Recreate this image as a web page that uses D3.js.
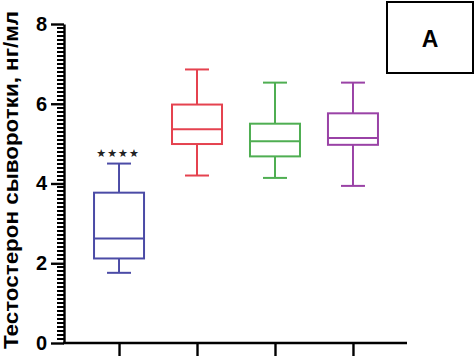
<!DOCTYPE html>
<html>
<head>
<meta charset="utf-8">
<script src="https://cdn.jsdelivr.net/npm/d3@7"></script>
<style>
  body { margin: 0; background: #fff; }
  svg { display: block; }
</style>
</head>
<body>
<div id="chart"></div>
<script>
// groups and box statistics
const groups = ['g1', 'g2', 'g3', 'g4'];
const whiskerLow = [1.76, 4.2, 4.14, 3.94];
const q1 = [2.12, 4.99, 4.68, 4.97];
const median = [2.62, 5.36, 5.06, 5.14];
const q3 = [3.77, 5.98, 5.5, 5.76];
const whiskerHigh = [4.5, 6.86, 6.53, 6.53];
const colors = ['#4b4ba6', '#e5424f', '#4fae52', '#9a42a6'];
const marks = ['★★★★', '', '', ''];
const yTicks = [0, 2, 4, 6, 8];

const width = 475, height = 358;
const axisX = 64;

const svg = d3.select('#chart').append('svg')
    .attr('width', width)
    .attr('height', height);

const y = d3.scaleLinear().domain([0, 8]).range([343, 24]);
const x = d3.scalePoint().domain(groups).range([66, 406]).padding(0.68);

// minor ticks every 0.1
const minor = d3.range(0, 81).map(d => d / 10).filter(d => !yTicks.includes(d));
svg.append('g')
    .attr('shape-rendering', 'crispEdges')
    .selectAll('line')
    .data(minor)
    .enter().append('line')
    .attr('x1', axisX - 7).attr('x2', axisX)
    .attr('y1', d => Math.round(y(d))).attr('y2', d => Math.round(y(d)))
    .attr('stroke', '#000')
    .attr('stroke-width', 2);

// major ticks and labels
const yAxis = svg.append('g')
    .attr('transform', `translate(${axisX},0)`)
    .call(d3.axisLeft(y).tickValues(yTicks).tickSize(13).tickSizeOuter(0).tickPadding(4));
yAxis.select('.domain').attr('stroke', '#000').attr('stroke-width', 2.4);
yAxis.selectAll('line').attr('stroke', '#000').attr('stroke-width', 2.4);
yAxis.selectAll('text')
    .style('font-family', 'Liberation Sans, Arial, sans-serif')
    .style('font-weight', 'bold')
    .style('font-size', '20px')
    .attr('fill', '#000');

// x axis without labels
const xAxis = svg.append('g')
    .attr('transform', 'translate(0,343)')
    .call(d3.axisBottom(x).tickSize(13).tickSizeOuter(0).tickFormat(''));
xAxis.select('.domain').attr('d', `M${axisX - 1},0H407`).attr('stroke', '#000').attr('stroke-width', 2.4);
xAxis.selectAll('line').attr('stroke', '#000').attr('stroke-width', 2.4);

svg.append('text')
    .attr('transform', 'translate(18,180) rotate(-90)')
    .attr('text-anchor', 'middle')
    .attr('textLength', 338)
    .attr('lengthAdjust', 'spacingAndGlyphs')
    .style('font-family', 'Liberation Sans, Arial, sans-serif')
    .style('font-weight', 'bold')
    .style('font-size', '20px')
    .text('Тестостерон сыворотки, нг/мл');

const boxW = 50, capW = 24;
const boxes = svg.append('g')
    .selectAll('g')
    .data(groups)
    .enter().append('g')
    .attr('stroke', (d, i) => colors[i])
    .attr('stroke-width', 2)
    .attr('fill', 'none');

boxes.append('line')
    .attr('x1', d => x(d)).attr('x2', d => x(d))
    .attr('y1', (d, i) => y(whiskerHigh[i])).attr('y2', (d, i) => y(q3[i]));
boxes.append('line')
    .attr('x1', d => x(d)).attr('x2', d => x(d))
    .attr('y1', (d, i) => y(q1[i])).attr('y2', (d, i) => y(whiskerLow[i]));
boxes.append('line')
    .attr('x1', d => x(d) - capW / 2).attr('x2', d => x(d) + capW / 2)
    .attr('y1', (d, i) => y(whiskerHigh[i])).attr('y2', (d, i) => y(whiskerHigh[i]));
boxes.append('line')
    .attr('x1', d => x(d) - capW / 2).attr('x2', d => x(d) + capW / 2)
    .attr('y1', (d, i) => y(whiskerLow[i])).attr('y2', (d, i) => y(whiskerLow[i]));
boxes.append('rect')
    .attr('x', d => x(d) - boxW / 2)
    .attr('width', boxW)
    .attr('y', (d, i) => y(q3[i]))
    .attr('height', (d, i) => y(q1[i]) - y(q3[i]));
boxes.append('line')
    .attr('x1', d => x(d) - boxW / 2).attr('x2', d => x(d) + boxW / 2)
    .attr('y1', (d, i) => y(median[i])).attr('y2', (d, i) => y(median[i]));

svg.append('g')
    .selectAll('text')
    .data(groups)
    .enter().append('text')
    .attr('x', d => x(d) - 1)
    .attr('y', (d, i) => y(whiskerHigh[i]) - 7)
    .attr('text-anchor', 'middle')
    .style('font-family', 'DejaVu Sans, sans-serif')
    .style('font-size', '11px')
    .style('letter-spacing', '1px')
    .attr('fill', '#222')
    .text((d, i) => marks[i]);

// panel label
svg.append('rect')
    .attr('x', 387).attr('y', 2)
    .attr('width', 86).attr('height', 71)
    .attr('fill', '#fff')
    .attr('stroke', '#000')
    .attr('stroke-width', 2);
svg.append('text')
    .attr('x', 430).attr('y', 47)
    .attr('text-anchor', 'middle')
    .style('font-family', 'Liberation Sans, Arial, sans-serif')
    .style('font-weight', 'bold')
    .style('font-size', '23px')
    .text('A');
</script>
</body>
</html>
